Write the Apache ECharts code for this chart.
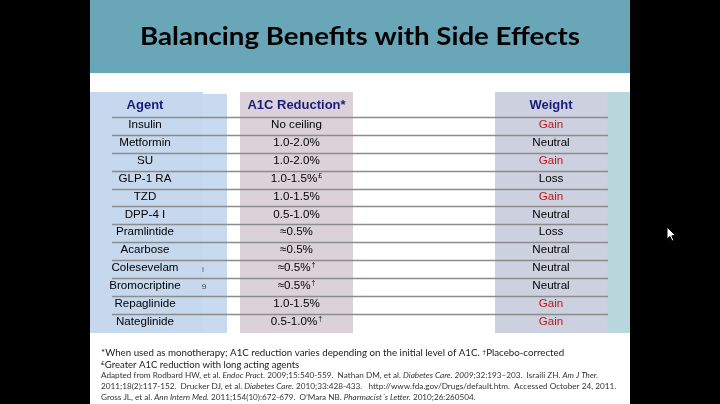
<!DOCTYPE html>
<html><head><meta charset="utf-8">
<script src="https://cdn.jsdelivr.net/npm/echarts@6/dist/echarts.min.js"></script>
<style>html,body{margin:0;padding:0;background:#000}#c{width:720px;height:404px}</style>
</head><body><div id="c"></div>
<script>
// ---- data ----
const title = 'Balancing Benefits with Side Effects';
const columns = ['Agent', 'A1C Reduction*', 'Weight'];
const agents = ['Insulin','Metformin','SU','GLP-1 RA','TZD','DPP-4 I','Pramlintide','Acarbose','Colesevelam','Bromocriptine','Repaglinide','Nateglinide'];
const a1cReduction = ['No ceiling','1.0-2.0%','1.0-2.0%','1.0-1.5%','1.0-1.5%','0.5-1.0%','\u22480.5%','\u22480.5%','\u22480.5%','\u22480.5%','1.0-1.5%','0.5-1.0%'];
const a1cMarks = ['','','','\u00a3','','','','','\u2020','\u2020','','\u2020'];
const weight = ['Gain','Neutral','Gain','Loss','Gain','Neutral','Loss','Neutral','Neutral','Neutral','Gain','Gain'];
const footnotes = [
  '*When used as monotherapy; A1C reduction varies depending on the initial level of A1C. {s|\u2020}Placebo-corrected',
  '{s|\u00a3}Greater A1C reduction with long acting agents'
];
const references = [
  'Adapted from Rodbard HW, et al. {i|Endoc Pract.} 2009;15:540-559.  Nathan DM, et al. {i|Diabetes Care. 2009;}32:193\u2013203.  Israili ZH. {i|Am J Ther.}',
  '2011;18(2):117-152.  Drucker DJ, et al. {i|Diabetes Care.} 2010;33:428-433.   http://www.fda.gov/Drugs/default.htm.  Accessed October 24, 2011.',
  'Gross JL, et al. {i|Ann Intern Med.} 2011;154(10):672-679.  O\u2019Mara NB. {i|Pharmacist\u00b4s Letter.} 2010;26:260504.'
];

// ---- layout helpers ----
const ctx = document.createElement('canvas').getContext('2d');
function fitScale(text, font, target) {
  ctx.font = font;
  const plain = text.replace(/\{\w+\|([^}]*)\}/g, '$1');
  return target / ctx.measureText(plain).width;
}
const TABLE_FONT = '"Liberation Sans", Arial, sans-serif';
const NOTE_FONT = 'Lato, "Open Sans", sans-serif';
const rowTop = 117, rowH = 17.88 * agents.length;

function colGrid(left, width) {
  return { left: left, width: width, top: rowTop, height: rowH, show: false };
}
const grids = [colGrid(100, 90), colGrid(240, 113), colGrid(495, 112), colGrid(112, 496)];
const xAxes = grids.map((g, i) => ({
  type: 'value', gridIndex: i, min: 0, max: 1, position: 'top',
  name: i < 3 ? columns[i] : '', nameLocation: 'middle', nameGap: 5,
  nameTextStyle: { color: '#1b1b7c', fontWeight: 'bold', fontSize: 13, fontFamily: TABLE_FONT },
  axisLine: { show: false }, axisTick: { show: false }, axisLabel: { show: false }, splitLine: { show: false }
}));
const yAxes = grids.map((g, i) => ({
  type: 'category', gridIndex: i, data: agents, inverse: true, show: false
}));

function textSeries(idx, getText, getFill) {
  return {
    type: 'custom', xAxisIndex: idx, yAxisIndex: idx, z: 5,
    data: agents.map((a, i) => [0.5, i]),
    renderItem: function (params, api) {
      const p = api.coord([api.value(0), api.value(1)]);
      const i = params.dataIndex;
      return {
        type: 'text', x: p[0], y: p[1] - 1,
        style: {
          text: getText(i), fill: getFill(i), fontSize: 11.6, fontFamily: TABLE_FONT,
          align: 'center', verticalAlign: 'middle',
          rich: { s: { fontSize: 7, fontFamily: TABLE_FONT, fill: getFill(i), verticalAlign: 'top', padding: [0, 0, 4, 1] } }
        }
      };
    }
  };
}

const lineSeries = {
  type: 'custom', xAxisIndex: 3, yAxisIndex: 3, z: 4,
  data: agents.map((a, i) => [0, i]),
  renderItem: function (params, api) {
    const i = api.value(1);
    const h = api.size([0, 1])[1];
    const p1 = api.coord([0, i]);
    const p2 = api.coord([1, i]);
    const y = Math.round(p1[1] - h / 2) + 0.5;
    return { type: 'line', shape: { x1: p1[0], y1: y, x2: p2[0], y2: y },
      style: { stroke: '#8c8c8c', lineWidth: 1.5 } };
  }
};

const titleFont = 'bold 25px ' + NOTE_FONT;
const graphics = [
  { type: 'rect', z: -10, shape: { x: 90, y: 0, width: 540, height: 404 }, style: { fill: '#ffffff' } },
  { type: 'rect', z: -9, shape: { x: 90, y: 0, width: 540, height: 73 }, style: { fill: '#69a6b8' } },
  { type: 'rect', z: -9, shape: { x: 90, y: 92, width: 113, height: 241 }, style: { fill: '#c5d8ee' } },
  { type: 'rect', z: -9, shape: { x: 203, y: 94, width: 24, height: 239 }, style: { fill: '#c8daef' } },
  { type: 'rect', z: -9, shape: { x: 240, y: 92, width: 113, height: 241 }, style: { fill: '#dbd2d9' } },
  { type: 'rect', z: -9, shape: { x: 495, y: 92, width: 112, height: 241 }, style: { fill: '#cdd1df' } },
  { type: 'rect', z: -9, shape: { x: 607, y: 92, width: 23, height: 241 }, style: { fill: '#b9d8dd' } },
  { type: 'text', z: 10, x: 360, y: 37, scaleX: fitScale(title, titleFont, 440),
    style: { text: title, fill: '#000', fontSize: 25, fontWeight: 'bold', fontFamily: NOTE_FONT, align: 'center', verticalAlign: 'middle' } },
  { type: 'text', z: 10, x: 203, y: 270, style: { text: '\u0131', fill: '#666', fontSize: 9, fontFamily: TABLE_FONT, align: 'center', verticalAlign: 'middle' } },
  { type: 'text', z: 10, x: 204, y: 287, style: { text: '\u0258', fill: '#555', fontSize: 9, fontFamily: TABLE_FONT, align: 'center', verticalAlign: 'middle' } },
  { type: 'polygon', z: 20, shape: { points: [[667, 227], [667, 239], [670, 236.5], [672, 241], [673.8, 240.2], [671.8, 235.8], [675.5, 235.5]] },
    style: { fill: '#fff', stroke: '#000', lineWidth: 1 } }
];
const noteTargets = [465, 200];
footnotes.forEach((t, k) => {
  graphics.push({ type: 'text', z: 10, x: 101, y: 353 + k * 11.5, scaleX: fitScale(t, '9.6px ' + NOTE_FONT, noteTargets[k]),
    style: { text: t, fill: '#1a1a1a', fontSize: 9.6, fontFamily: NOTE_FONT, align: 'left', verticalAlign: 'middle',
      rich: { s: { fontSize: 6.5, fontFamily: NOTE_FONT, fill: '#1a1a1a', verticalAlign: 'top', padding: [0, 0, 3, 0] } } } });
});
const refTargets = [505, 518, 382];
references.forEach((t, k) => {
  graphics.push({ type: 'text', z: 10, x: 101, y: 376 + k * 10.7, scaleX: fitScale(t, '7.2px ' + NOTE_FONT, refTargets[k]),
    style: { text: t, fill: '#333', fontSize: 7.2, fontFamily: NOTE_FONT, align: 'left', verticalAlign: 'middle',
      rich: { i: { fontSize: 7.2, fontFamily: NOTE_FONT, fontStyle: 'italic', fill: '#333' } } } });
});

const chart = echarts.init(document.getElementById('c'), null, { renderer: 'canvas' });
chart.setOption({
  backgroundColor: '#000',
  animation: false,
  grid: grids, xAxis: xAxes, yAxis: yAxes,
  series: [
    lineSeries,
    textSeries(0, i => agents[i], i => '#000'),
    textSeries(1, i => a1cMarks[i] ? a1cReduction[i] + '{s|' + a1cMarks[i] + '}' : a1cReduction[i], i => '#000'),
    textSeries(2, i => weight[i], i => weight[i] === 'Gain' ? '#c0161e' : '#000')
  ],
  graphic: { elements: graphics }
});
</script></body></html>
